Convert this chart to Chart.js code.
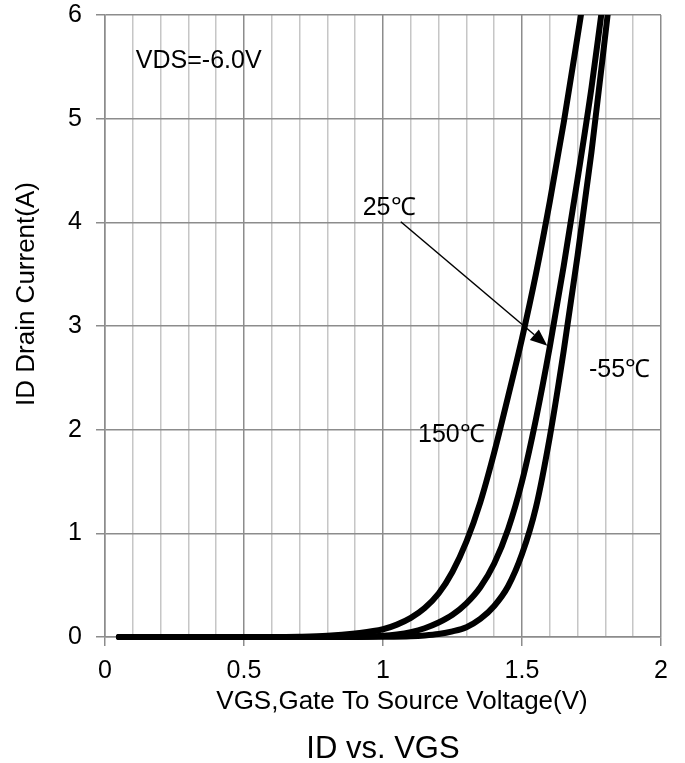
<!DOCTYPE html>
<html>
<head>
<meta charset="utf-8">
<style>
  html, body { margin: 0; padding: 0; background: #ffffff; }
  #wrap { width: 685px; height: 763px; }
</style>
<script src="https://cdn.jsdelivr.net/npm/chart.js@4.4.1/dist/chart.umd.min.js"></script>
</head>
<body>
<div id="wrap"><canvas id="c" width="685" height="763"></canvas></div>
<script>
// ---- data ----
const xTickLabels = ['0', '0.5', '1', '1.5', '2'];
const yTickLabels = ['0', '1', '2', '3', '4', '5', '6'];

const seriesNames = ['150℃', '25℃', '-55℃'];

const vgs150 = [0.05, 0.6, 0.7, 0.8, 0.9, 1.0, 1.05, 1.1, 1.15, 1.2, 1.25, 1.3, 1.35, 1.4, 1.45, 1.5, 1.55, 1.6, 1.65, 1.712];
const id150  = [0, 0, 0.003, 0.012, 0.035, 0.075, 0.12, 0.185, 0.28, 0.42, 0.63, 0.92, 1.3, 1.78, 2.32, 2.88, 3.5, 4.2, 4.96, 6];

const vgs25 = [0.05, 0.8, 0.9, 1.0, 1.05, 1.1, 1.15, 1.2, 1.25, 1.3, 1.35, 1.4, 1.45, 1.5, 1.55, 1.6, 1.65, 1.7, 1.75, 1.785];
const id25  = [0, 0, 0.003, 0.012, 0.025, 0.048, 0.085, 0.14, 0.215, 0.325, 0.48, 0.71, 1.04, 1.5, 2.1, 2.8, 3.58, 4.42, 5.3, 6];

const vgsM55 = [0.05, 0.9, 1.0, 1.1, 1.15, 1.2, 1.25, 1.3, 1.35, 1.4, 1.45, 1.5, 1.55, 1.6, 1.65, 1.7, 1.75, 1.808];
const idM55  = [0, 0, 0.002, 0.008, 0.016, 0.03, 0.055, 0.095, 0.175, 0.3, 0.49, 0.8, 1.25, 1.93, 2.76, 3.68, 4.68, 6];

// text annotations (anchored in data coordinates)
const noteTexts = ['VDS=-6.0V', '25℃', '150℃', '-55℃'];
const noteX = [0.111, 0.927, 1.126, 1.741];
const noteY = [5.56, 4.14, 1.95, 2.575];
const arrowFrom = [1.064, 4.006];
const arrowTo = [1.591, 2.81];

// ---- styling ----
const FONT = "'Liberation Sans', Arial, Helvetica, sans-serif";
const MAJOR = '#8c8c8c';
const MINOR = '#c6c6c6';

function zip(xs, ys) { return xs.map((x, i) => ({ x: x, y: ys[i] })); }
function isMajorX(v) { return Math.abs(v * 2 - Math.round(v * 2)) < 1e-6; }

const lineStyle = {
  borderColor: '#000000',
  backgroundColor: '#000000',
  borderWidth: 6,
  pointRadius: 0,
  pointHoverRadius: 0,
  fill: false,
  cubicInterpolationMode: 'monotone',
  borderCapStyle: 'round',
  borderJoinStyle: 'round',
  clip: { left: 6, top: 0, right: 6, bottom: 6 }
};

const annotationPlugin = {
  id: 'notes',
  afterDatasetsDraw(chart) {
    const ctx = chart.ctx;
    const xs = chart.scales.x, ys = chart.scales.y;
    ctx.save();
    ctx.fillStyle = '#000';
    ctx.font = '25px ' + FONT;
    ctx.textAlign = 'left';
    ctx.textBaseline = 'middle';
    noteTexts.forEach((t, i) => {
      ctx.fillText(t, xs.getPixelForValue(noteX[i]), ys.getPixelForValue(noteY[i]));
    });
    // arrow
    const x1 = xs.getPixelForValue(arrowFrom[0]), y1 = ys.getPixelForValue(arrowFrom[1]);
    const x2 = xs.getPixelForValue(arrowTo[0]), y2 = ys.getPixelForValue(arrowTo[1]);
    const ang = Math.atan2(y2 - y1, x2 - x1);
    const hl = 17, hw = 7;
    const bx = x2 - hl * Math.cos(ang), by = y2 - hl * Math.sin(ang);
    ctx.strokeStyle = '#000';
    ctx.lineWidth = 1.5;
    ctx.beginPath();
    ctx.moveTo(x1, y1);
    ctx.lineTo(bx, by);
    ctx.stroke();
    ctx.beginPath();
    ctx.moveTo(x2, y2);
    ctx.lineTo(bx + hw * Math.sin(ang), by - hw * Math.cos(ang));
    ctx.lineTo(bx - hw * Math.sin(ang), by + hw * Math.cos(ang));
    ctx.closePath();
    ctx.fill();
    // axis titles
    ctx.font = '26px ' + FONT;
    ctx.textAlign = 'center';
    ctx.fillText('VGS,Gate To Source Voltage(V)', 402, 702);
    ctx.translate(27, 294);
    ctx.rotate(-Math.PI / 2);
    ctx.fillText('ID Drain Current(A)', 0, 0);
    ctx.restore();
  }
};

new Chart(document.getElementById('c'), {
  type: 'line',
  data: {
    datasets: [
      Object.assign({ label: seriesNames[0], data: zip(vgs150, id150) }, lineStyle),
      Object.assign({ label: seriesNames[1], data: zip(vgs25, id25) }, lineStyle),
      Object.assign({ label: seriesNames[2], data: zip(vgsM55, idM55) }, lineStyle)
    ]
  },
  options: {
    responsive: false,
    animation: false,
    events: [],
    layout: { padding: { top: 15, right: 24, bottom: 0, left: 0 } },
    plugins: {
      legend: { display: false },
      tooltip: { enabled: false },
      title: {
        display: true,
        text: 'ID vs. VGS',
        position: 'bottom',
        fullSize: false,
        color: '#000',
        font: { family: FONT, size: 31, weight: 'normal', lineHeight: 0.85 },
        padding: { top: 0, bottom: 0 }
      }
    },
    scales: {
      x: {
        type: 'linear',
        min: 0,
        max: 2,
        afterFit(s) { s.height = 99.6; s.paddingLeft = 0; s.paddingRight = 0; },
        ticks: {
          stepSize: 0.1,
          autoSkip: false,
          maxRotation: 0,
          minRotation: 0,
          padding: 10,
          color: '#000',
          font: { family: FONT, size: 25 },
          callback: (v) => isMajorX(v) ? xTickLabels[Math.round(v * 2)] : ''
        },
        grid: {
          color: (c) => (c.tick && isMajorX(c.tick.value)) ? MAJOR : MINOR,
          tickColor: (c) => (c.tick && isMajorX(c.tick.value)) ? MAJOR : 'rgba(0,0,0,0)',
          lineWidth: 1.5,
          tickLength: 9
        },
        border: { color: MAJOR, width: 1.5 },
        title: { display: false }
      },
      y: {
        type: 'linear',
        min: 0,
        max: 6,
        afterFit(s) { s.width = 105; s.paddingTop = 0; s.paddingBottom = 0; },
        ticks: {
          stepSize: 1,
          padding: 14,
          color: '#000',
          font: { family: FONT, size: 25 },
          callback: (v) => yTickLabels[Math.round(v)]
        },
        grid: {
          color: MAJOR,
          tickColor: MAJOR,
          lineWidth: 1.5,
          tickLength: 9
        },
        border: { color: MAJOR, width: 1.5 },
        title: { display: false }
      }
    }
  },
  plugins: [annotationPlugin]
});
</script>
</body>
</html>
